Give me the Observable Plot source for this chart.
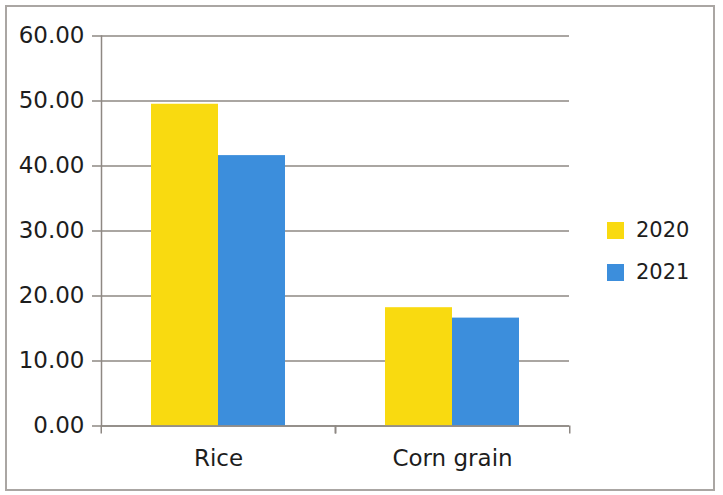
<!DOCTYPE html>
<html><head><meta charset="utf-8">
<script src="https://cdn.jsdelivr.net/npm/d3@7"></script>
<script src="https://cdn.jsdelivr.net/npm/@observablehq/plot@0.6"></script>
<style>
html,body{margin:0;padding:0;background:#fff;}
#wrap{position:relative;width:723px;height:495px;overflow:hidden;}
#border{position:absolute;left:5px;top:5px;width:710px;height:486px;border:2px solid #aaa6a3;box-sizing:border-box;pointer-events:none}
#legend{position:absolute;left:607px;top:209px;font-family:"DejaVu Sans";font-size:21px;color:#1d1d1d}
.item{display:flex;align-items:center;height:42px}
.sw{width:17px;height:17px;margin-right:12px}
</style></head>
<body><div id="wrap"><div id="border"></div><div id="legend"></div></div>
<script>
const categories = ["Rice", "Corn grain"];
const years = ["2020", "2021"];
const values2020 = [49.5, 18.2];
const values2021 = [41.6, 16.6];
const yTicks = [0, 10, 20, 30, 40, 50, 60];
const colors = ["#f9da10", "#3c8edc"];

const data = categories.flatMap((c, i) => [
  {category: c, year: years[0], value: values2020[i]},
  {category: c, year: years[1], value: values2021[i]}
]);

const W = 723, H = 495, mL = 100, mR = 154, mT = 35.5, mB = 69.5;
const halfBand = (W - mL - mR) / categories.length / 2;
const gridColor = "#8e8883";

const chart = Plot.plot({
  width: W, height: H, marginLeft: mL, marginRight: mR, marginTop: mT, marginBottom: mB,
  style: {fontFamily: "DejaVu Sans", fontSize: "23px", color: "#1d1d1d", background: "transparent"},
  fx: {domain: categories, padding: 0, label: null},
  x: {domain: years, paddingInner: 0, paddingOuter: 0.733, axis: null},
  y: {domain: [0, 60], label: null},
  color: {domain: years, range: colors},
  marks: [
    Plot.gridY(yTicks, {stroke: gridColor, strokeOpacity: 1, strokeWidth: 1.5}),
    Plot.barY(data, {fx: "category", x: "year", y: "value", fill: "year"}),
    Plot.axisY(yTicks, {tickFormat: d => d.toFixed(2), tickSize: 9, tickPadding: 8, stroke: gridColor, strokeWidth: 1.5, label: null}),
    Plot.ruleY([0], {stroke: gridColor, strokeWidth: 1.5}),
    Plot.frame({anchor: "left", facetAnchor: "left", stroke: gridColor, strokeWidth: 1.5}),
    Plot.axisFx({anchor: "bottom", tickSize: 0, tickPadding: 24, label: null}),
    Plot.axisFx({anchor: "bottom", text: null, tickSize: 8, dx: -halfBand, stroke: gridColor, strokeWidth: 1.5, label: null}),
    Plot.axisFx([categories[categories.length - 1]], {anchor: "bottom", text: null, tickSize: 8, dx: halfBand, stroke: gridColor, strokeWidth: 1.5, label: null})
  ]
});
document.getElementById("wrap").prepend(chart);

const legend = document.getElementById("legend");
years.forEach((y, i) => {
  const item = document.createElement("div");
  item.className = "item";
  const sw = document.createElement("div");
  sw.className = "sw";
  sw.style.background = colors[i];
  const t = document.createElement("span");
  t.textContent = y;
  item.append(sw, t);
  legend.append(item);
});
</script>
</body></html>
